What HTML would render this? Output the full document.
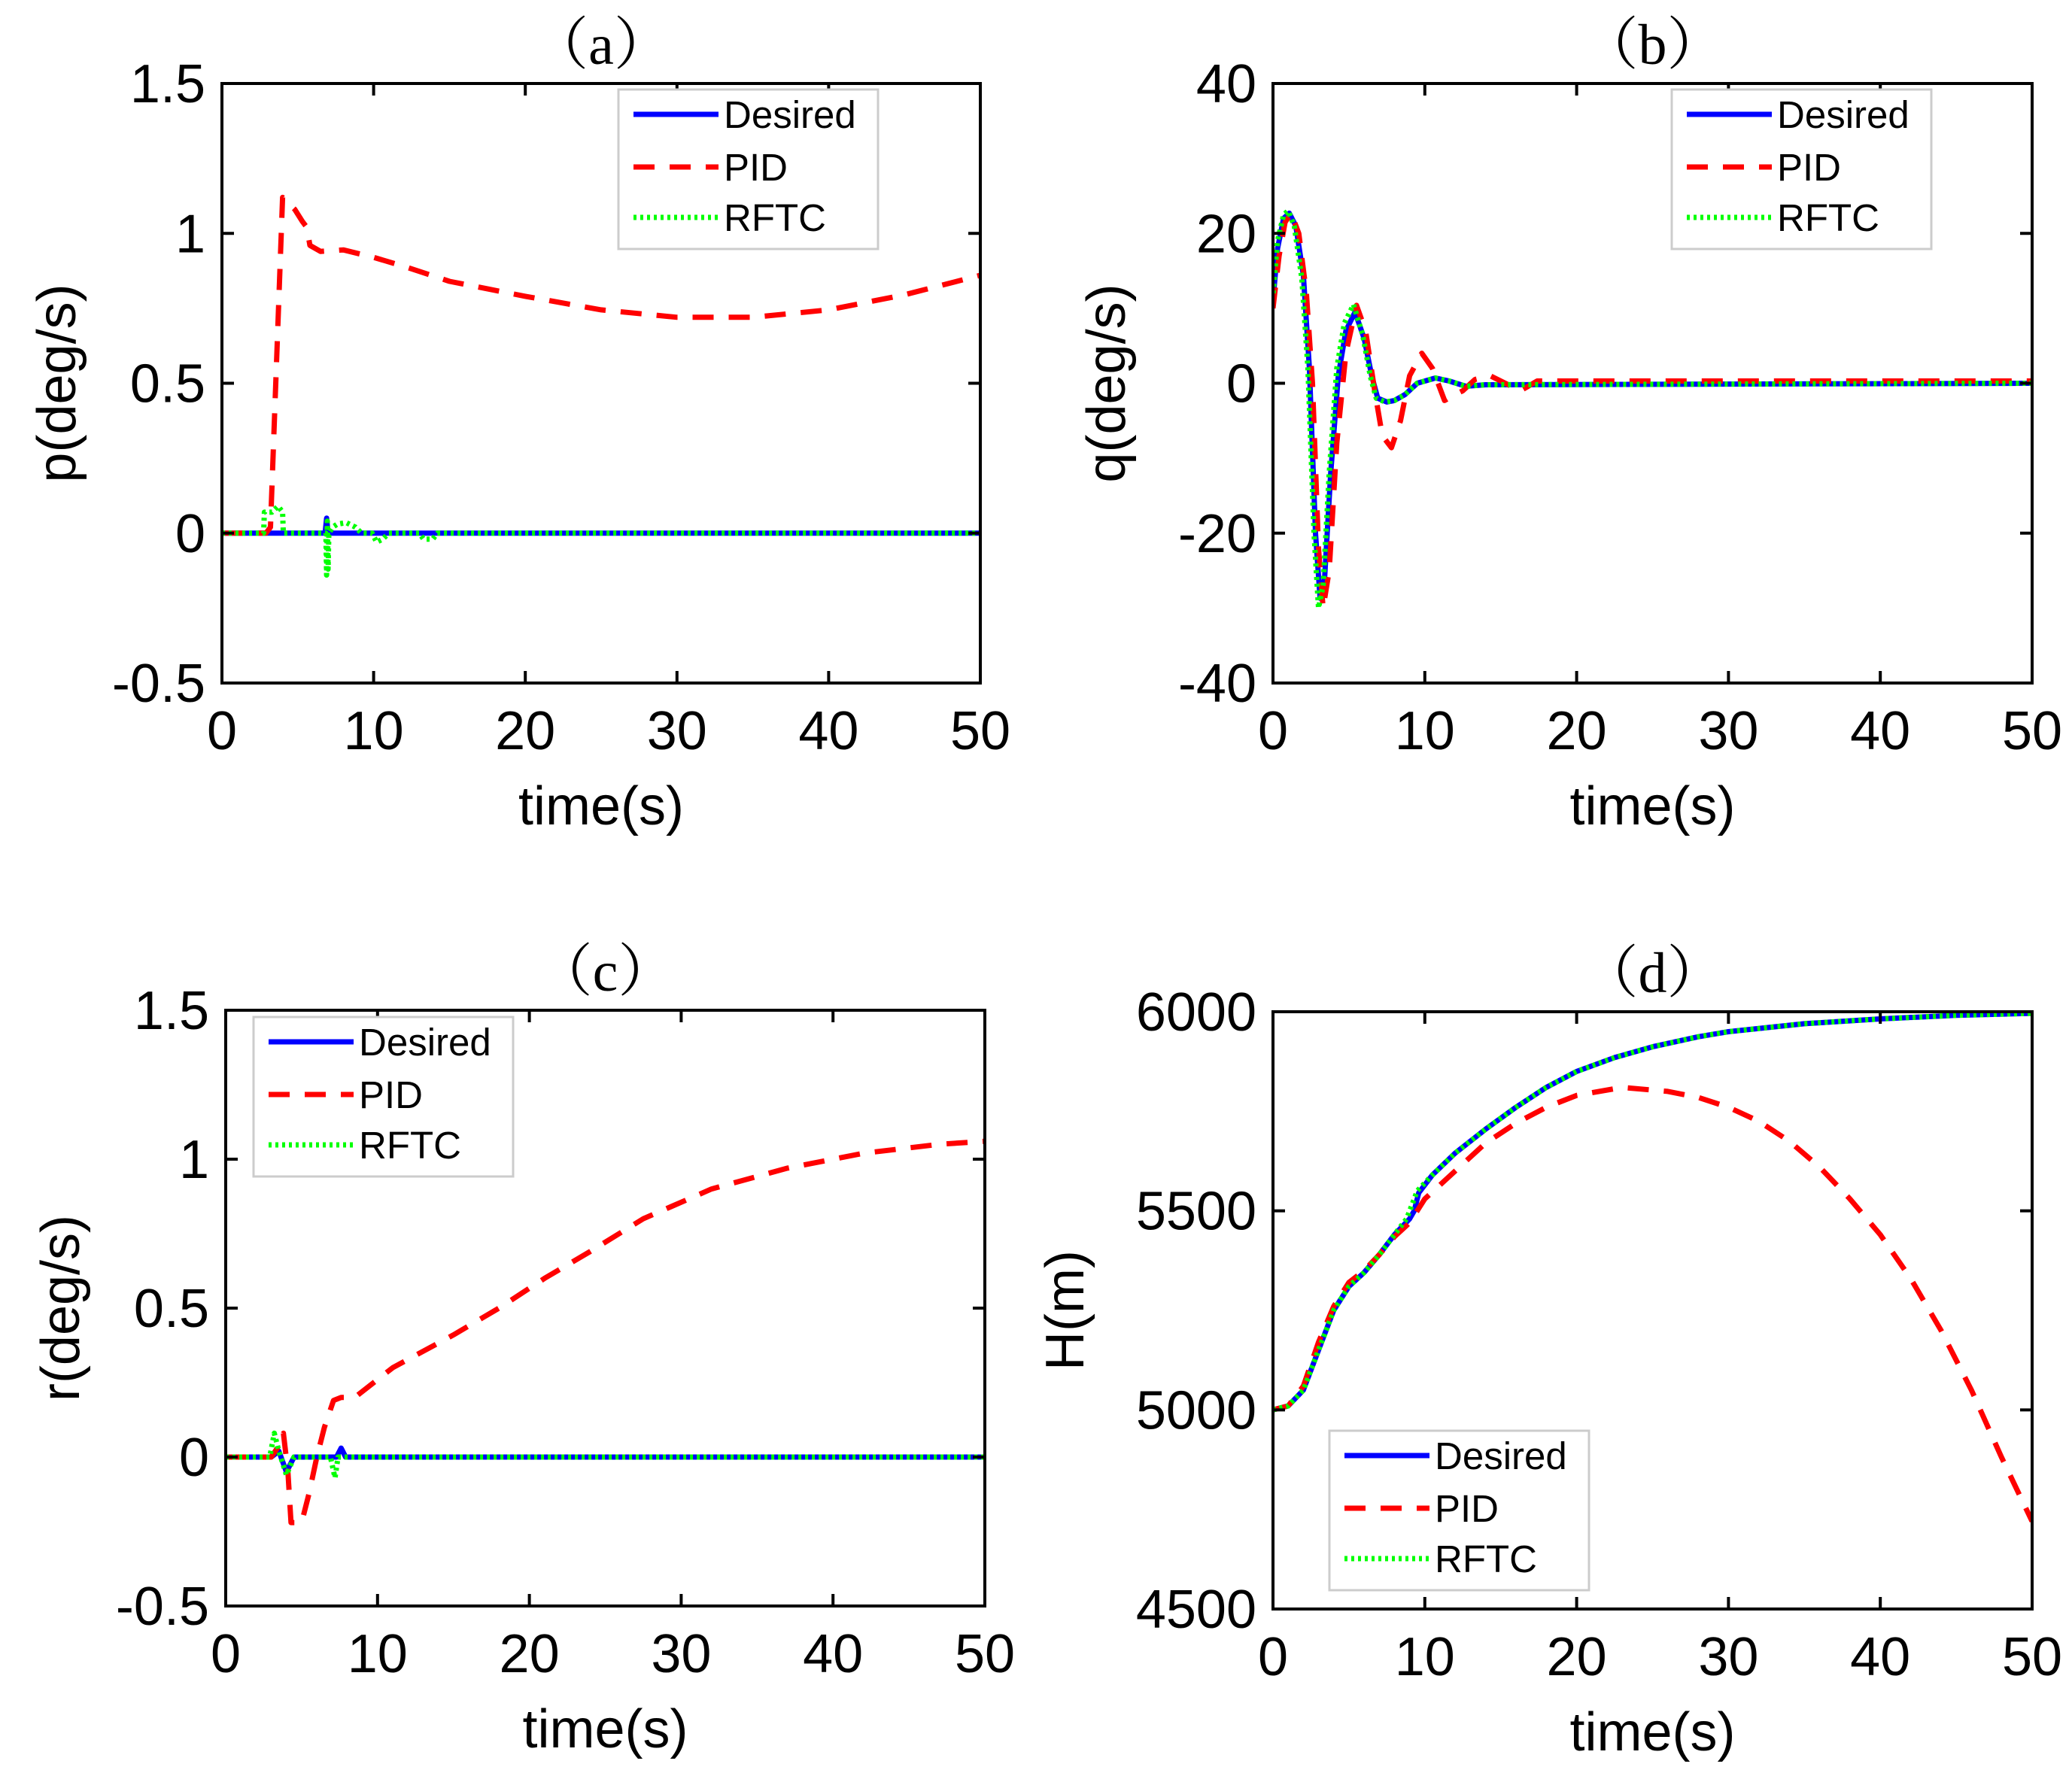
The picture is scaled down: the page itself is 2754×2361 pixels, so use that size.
<!DOCTYPE html>
<html><head><meta charset="utf-8">
<style>
html,body{margin:0;padding:0;background:#fff;}
svg{display:block;}
text{font-family:"Liberation Sans",Arial,sans-serif;fill:#000;}
.serif{font-family:"Liberation Serif","Noto Serif CJK SC",serif;}
</style></head>
<body>
<svg id="fig" width="2754" height="2361" viewBox="0 0 2754 2361" xmlns="http://www.w3.org/2000/svg"></svg>
<script>
// ---- data (time in s, values) ----
const aDesT=[0,6.8,6.9,7.0,50];
const aDesV=[0,0,0.05,0,0];
const aPidT=[0,2.9,3.2,4.0,4.8,5.3,5.6,5.8,6.5,8,10,12,15,20,25,30,35,40,45,50];
const aPidV=[0,0,0.02,1.12,1.08,1.04,1.02,0.96,0.94,0.945,0.92,0.89,0.84,0.79,0.745,0.72,0.72,0.745,0.795,0.86];
const aRfT=[0,2.75,2.8,3.3,3.7,4.0,4.05,6.85,6.9,6.95,7.0,7.05,7.3,7.6,8.2,8.8,9.2,9.9,10.2,10.6,11,13.0,13.3,13.9,14.2,50];
const aRfV=[0,0,0.07,0.07,0.09,0.07,0,0,-0.14,0.04,-0.12,0,0.02,0.03,0.035,0.02,0,0,-0.03,-0.02,0,0,-0.02,-0.02,0,0];

const bDesT=[0,0.3,0.7,1.07,1.5,2.0,2.4,2.8,3.1,3.4,3.8,4.3,4.8,5.4,6.0,6.5,6.9,7.5,8.0,8.7,9.5,10.7,11.6,12.7,14,50];
const bDesV=[11,18,22,22.7,21,14.4,2,-20,-28.7,-26,-12,1,7,9.5,6,1,-2,-2.5,-2.3,-1.5,0,0.7,0.3,-0.4,-0.2,0];
const bPidT=[0,0.4,0.8,1.2,1.7,2.2,2.6,3.0,3.3,3.7,4.2,4.8,5.5,6.1,6.7,7.2,7.8,8.4,9.0,9.8,10.5,11.3,12.0,12.5,13.3,14.3,15.3,16.3,17.4,20,50];
const bPidV=[10,17,21.5,22.7,20,12,0,-22,-30,-25,-8,4,10.4,7,-1,-7,-8.6,-5,1,4,2,-2.3,-1.5,-1,0.5,1,0,-1,0.3,0.3,0.3];
const bRfT=[0,0.3,0.7,1.0,1.4,1.9,2.3,2.7,3.0,3.3,3.7,4.2,4.7,5.3,5.9,6.4,6.8,7.4,8.0,8.7,9.5,10.7,11.6,12.7,14,50];
const bRfV=[12,19,22.5,23,21,14,2,-20,-30,-27,-12,2,8,10.5,6.5,1,-2,-2.5,-2.3,-1.5,0,0.7,0.3,-0.4,-0.2,0];

const cDesT=[0,3.0,3.5,4.0,4.5,7.0,7.3,7.6,7.9,50];
const cDesV=[0,0,0.02,-0.05,0,0,0,0.03,0,0];
const cPidT=[0,3.0,3.4,3.8,4.1,4.3,5.0,5.5,6.0,6.5,7.1,7.6,8.5,11,15,18,21,24,27.5,32,37,42,47,50];
const cPidV=[0,0,0.03,0.08,-0.05,-0.22,-0.22,-0.12,0,0.1,0.19,0.2,0.2,0.3,0.41,0.5,0.6,0.69,0.8,0.9,0.97,1.02,1.05,1.06];
const cRfT=[0,2.9,3.2,3.5,4.0,4.5,6.9,7.2,7.4,50];
const cRfV=[0,0,0.08,0.02,-0.06,0,0,-0.07,0,0];

const dDesT=[0,1,2,3,4,5,6,7,8,9,9.3,9.6,10.5,12,14,16,18,20,22.5,25,28,30,35,40,45,50];
const dDesV=[5000,5010,5050,5150,5250,5310,5345,5390,5440,5480,5500,5545,5590,5645,5705,5760,5810,5850,5885,5912,5937,5950,5970,5982,5991,5996];
const dPidT=[0,1,2,3,4,5,6,7,8,9,10,12,14,16,18,20,23,26,28,30,32,34,36,38,40,42,44,46,48,50];
const dPidV=[5000,5010,5060,5170,5260,5320,5350,5390,5435,5470,5530,5600,5670,5720,5760,5790,5810,5800,5785,5760,5725,5675,5610,5530,5440,5330,5200,5050,4880,4720];
const dRfT=[0,1,2,3,4,5,6,7,8,8.8,9.2,9.5,10.5,12,14,16,18,20,22.5,25,28,30,35,40,45,50];
const dRfV=[5000,5010,5050,5150,5250,5310,5345,5390,5440,5480,5520,5550,5590,5645,5705,5760,5810,5850,5885,5912,5937,5950,5970,5982,5991,5996];

const xTicks=[0,10,20,30,40,50];
const aYTicks=[-0.5,0,0.5,1,1.5], aYLab=["-0.5","0","0.5","1","1.5"];
const bYTicks=[-40,-20,0,20,40], bYLab=["-40","-20","0","20","40"];
const cYTicks=aYTicks, cYLab=aYLab;
const dYTicks=[4500,5000,5500,6000], dYLab=["4500","5000","5500","6000"];
const legendLabels=["Desired","PID","RFTC"];

const NS="http://www.w3.org/2000/svg";
const svg=document.getElementById('fig');
function el(tag,attrs,parent){const e=document.createElementNS(NS,tag);for(const k in attrs)e.setAttribute(k,attrs[k]);(parent||svg).appendChild(e);return e;}

function panel(cfg){
  const g=el('g',{});
  
  
  const L=cfg.L,R=cfg.R,T=cfg.T,B=cfg.B;
  const sx=t=>L+(t-0)/(50-0)*(R-L);
  const sy=v=>B-(v-cfg.ymin)/(cfg.ymax-cfg.ymin)*(B-T);
  const clip=el('clipPath',{id:'clip'+cfg.name},g);
  el('rect',{x:L,y:T,width:R-L,height:B-T},clip);
  const series=[
    {t:cfg.desT,v:cfg.desV,stroke:'#0000ff',dash:'',n:'desired-line'},
    {t:cfg.pidT,v:cfg.pidV,stroke:'#ff0000',dash:'28 20',n:'pid-line'},
    {t:cfg.rfT,v:cfg.rfV,stroke:'#00ff00',dash:'4 5',n:'rftc-line'}];
  for(const s of series){
    let d='';
    for(let i=0;i<s.t.length;i++)d+=(i?'L':'M')+sx(s.t[i]).toFixed(1)+' '+sy(s.v[i]).toFixed(1);
    const p=el('path',{d:d,fill:'none',stroke:s.stroke,'stroke-width':7,'stroke-dasharray':s.dash,'clip-path':'url(#clip'+cfg.name+')','stroke-linejoin':'round'},g);
    
    
  }
  const box=el('rect',{x:L,y:T,width:R-L,height:B-T,fill:'none',stroke:'#000','stroke-width':4},g);
  
  
  for(const t of xTicks){
    const x=sx(t);
    el('line',{x1:x,y1:B,x2:x,y2:B-16,stroke:'#000','stroke-width':4},g);
    el('line',{x1:x,y1:T,x2:x,y2:T+16,stroke:'#000','stroke-width':4},g);
    const tx=el('text',{x:x,y:B+88,'font-size':72,'text-anchor':'middle'},g);
    tx.textContent=t;
    
    
  }
  cfg.yTicks.forEach((v,i)=>{
    const y=sy(v);
    el('line',{x1:L,y1:y,x2:L+16,y2:y,stroke:'#000','stroke-width':4},g);
    el('line',{x1:R,y1:y,x2:R-16,y2:y,stroke:'#000','stroke-width':4},g);
    const tx=el('text',{x:L-22,y:y+25,'font-size':72,'text-anchor':'end'},g);
    tx.textContent=cfg.yLab[i];
    
    
  });
  const xl=el('text',{x:(L+R)/2,y:B+188,'font-size':72,'text-anchor':'middle'},g);
  xl.textContent='time(s)';
  
  
  const yx=cfg.ylabX, yy=(T+B)/2;
  const yl=el('text',{x:yx,y:yy,'font-size':72,'text-anchor':'middle',transform:'rotate(-90 '+yx+' '+yy+')'},g);
  yl.textContent=cfg.ylabel;
  
  
  const ti=el('text',{x:(L+R)/2,y:T-26,'font-size':76,'text-anchor':'middle','class':'serif'},g);
  ti.textContent='（'+cfg.title+'）';
  
  
  const lg=el('g',{},g);
  
  
  const bx=cfg.lx,by=cfg.ly;
  el('rect',{x:bx,y:by,width:345,height:212,fill:'#fff',stroke:'#cccccc','stroke-width':3},lg);
  const rows=[33,103,170];
  series.forEach((s,i)=>{
    const y=by+rows[i];
    el('line',{x1:bx+20,y1:y,x2:bx+133,y2:y,stroke:s.stroke,'stroke-width':7,'stroke-dasharray':s.dash},lg);
    const tx=el('text',{x:bx+140,y:y+18,'font-size':51},lg);
    tx.textContent=legendLabels[i];
    
    
  });
}
panel({name:'a',L:295,R:1303,T:111,B:908,ymin:-0.5,ymax:1.5,yTicks:aYTicks,yLab:aYLab,ylabel:'p(deg/s)',ylabX:100,title:'a',
  desT:aDesT,desV:aDesV,pidT:aPidT,pidV:aPidV,rfT:aRfT,rfV:aRfV,lx:822,ly:119});
panel({name:'b',L:1692,R:2701,T:111,B:908,ymin:-40,ymax:40,yTicks:bYTicks,yLab:bYLab,ylabel:'q(deg/s)',ylabX:1495,title:'b',
  desT:bDesT,desV:bDesV,pidT:bPidT,pidV:bPidV,rfT:bRfT,rfV:bRfV,lx:2222,ly:119});
panel({name:'c',L:300,R:1309,T:1343,B:2135,ymin:-0.5,ymax:1.5,yTicks:cYTicks,yLab:cYLab,ylabel:'r(deg/s)',ylabX:105,title:'c',
  desT:cDesT,desV:cDesV,pidT:cPidT,pidV:cPidV,rfT:cRfT,rfV:cRfV,lx:337,ly:1352});
panel({name:'d',L:1692,R:2701,T:1345,B:2139,ymin:4500,ymax:6000,yTicks:dYTicks,yLab:dYLab,ylabel:'H(m)',ylabX:1440,title:'d',
  desT:dDesT,desV:dDesV,pidT:dPidT,pidV:dPidV,rfT:dRfT,rfV:dRfV,lx:1767,ly:1902});
</script>
</body></html>
